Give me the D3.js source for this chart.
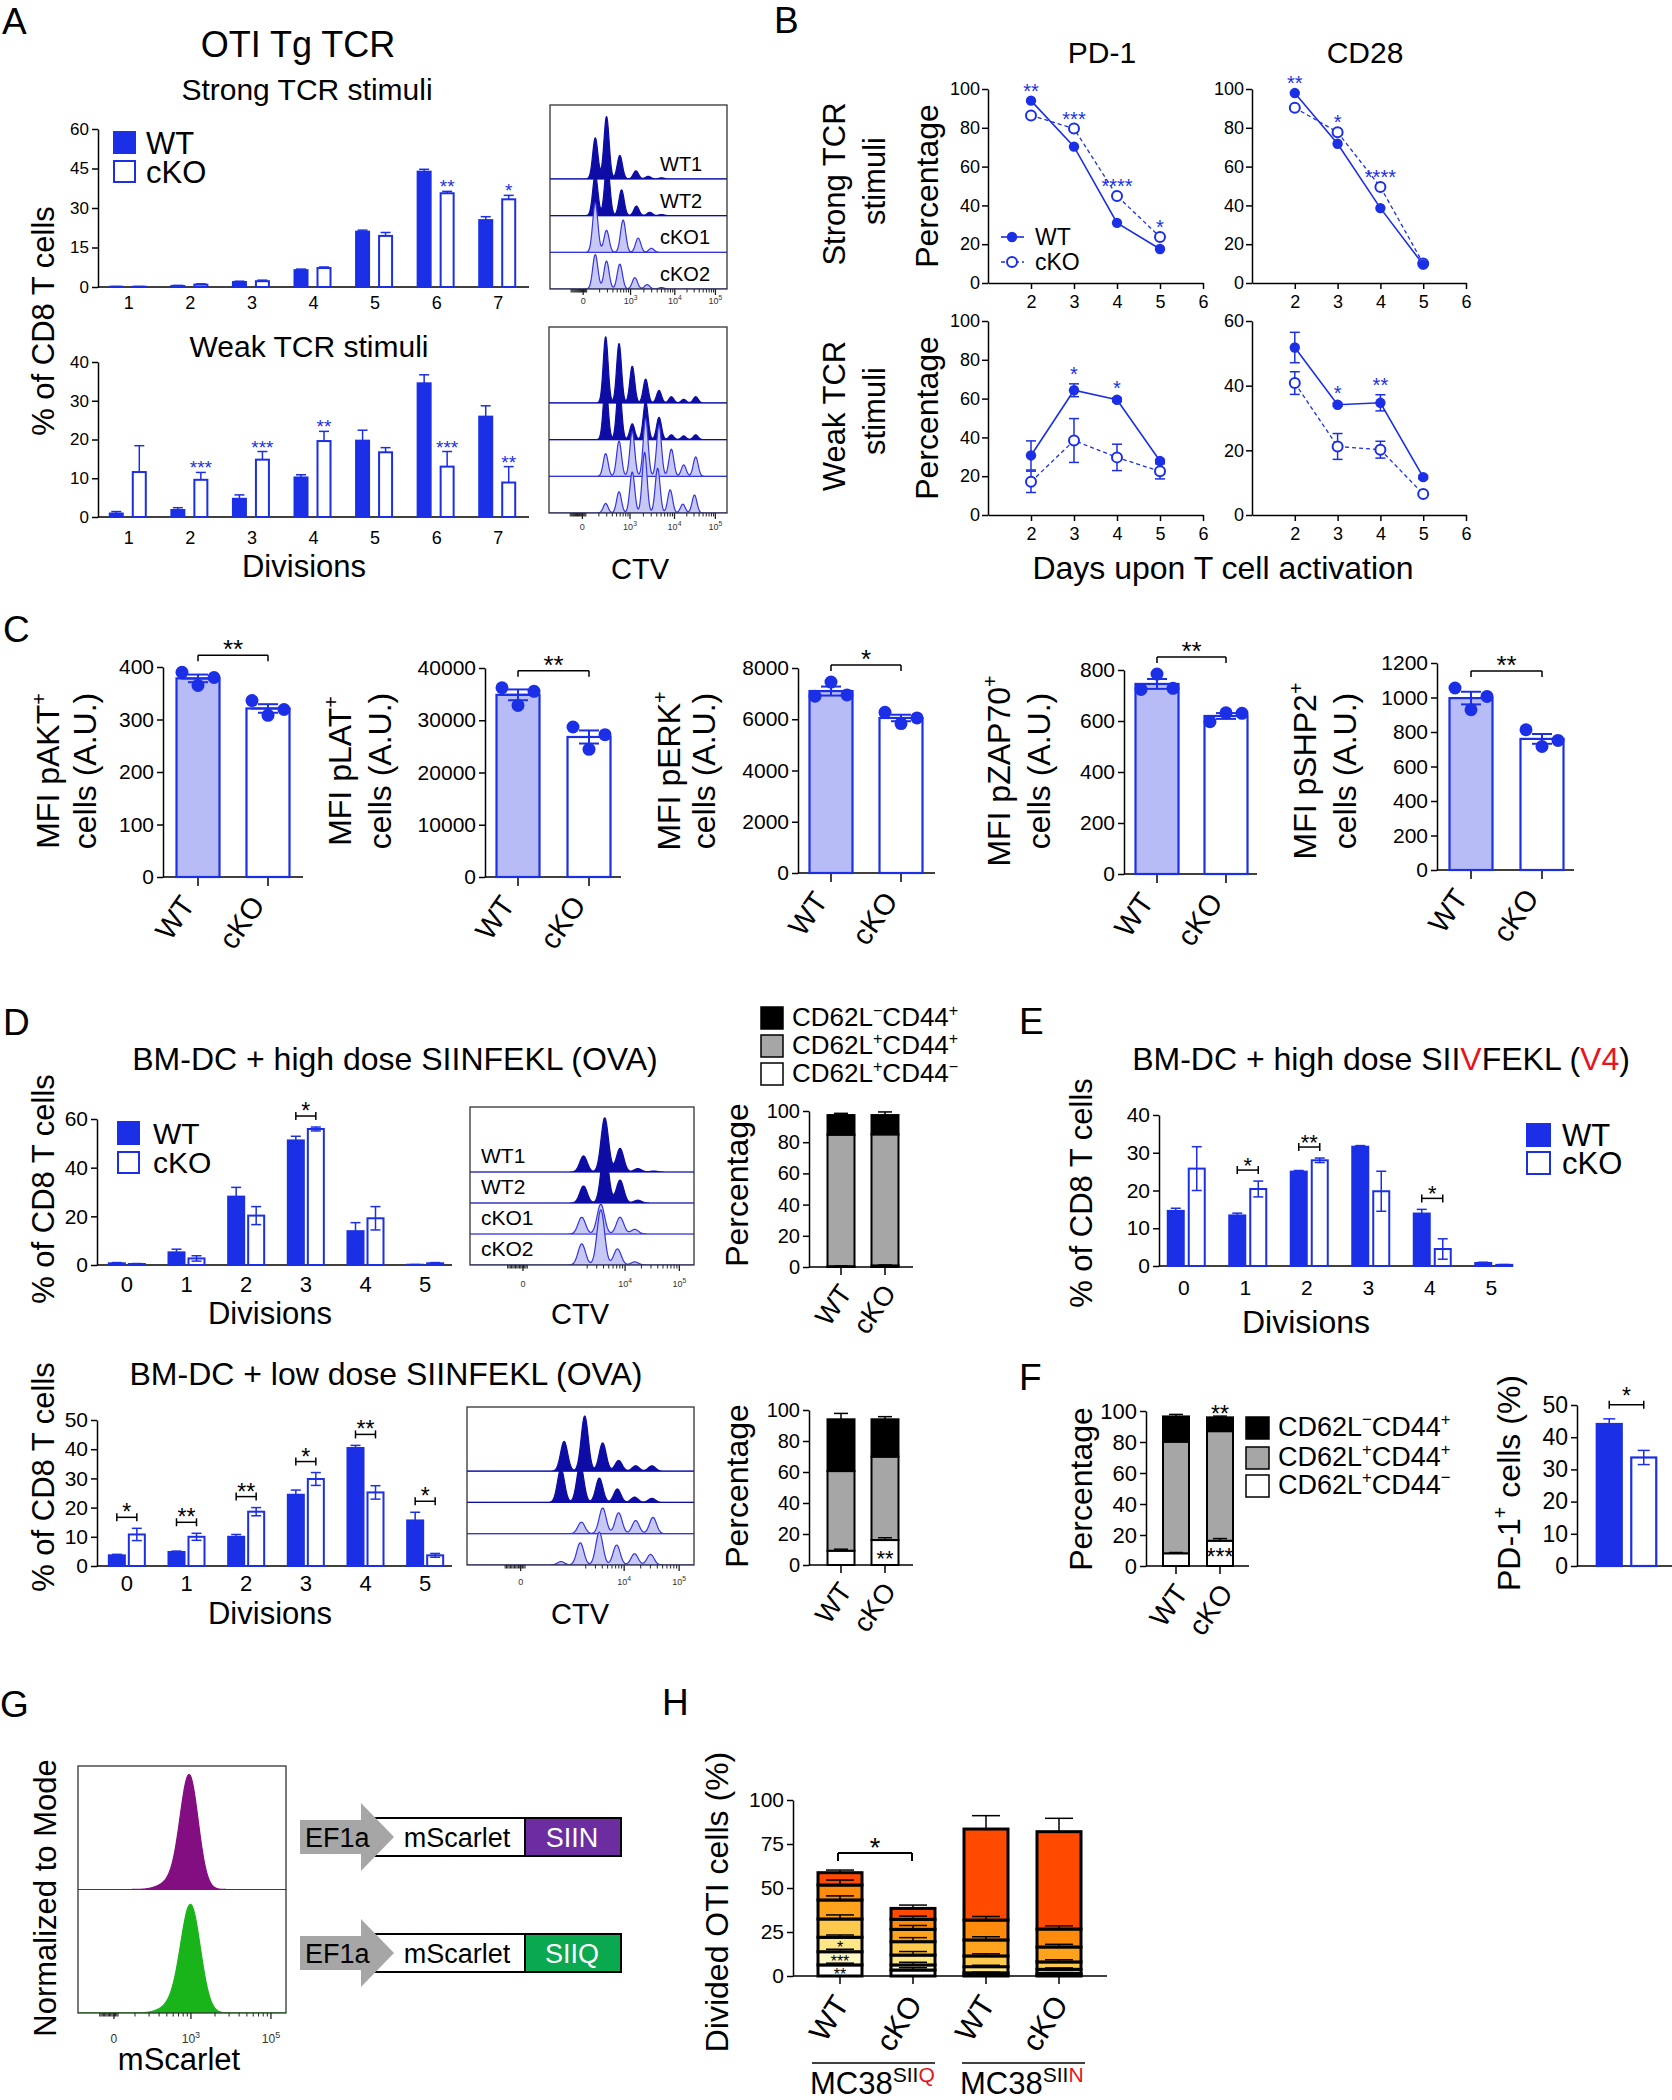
<!DOCTYPE html>
<html><head><meta charset="utf-8"><title>Figure</title>
<script src="https://cdn.jsdelivr.net/npm/d3@7/dist/d3.min.js"></script>
<style>html,body{margin:0;padding:0;background:#fff}</style>
</head><body>
<script>
// ================= DATA =================
// ---- Panel A ----
const divA=[1,2,3,4,5,6,7];
const aStrongWT=[0.1,0.4,1.9,6.4,21.0,43.8,25.4];
const aStrongWTerr=[0.1,0.2,0.3,0.4,0.6,0.9,1.3];
const aStrongKO=[0.1,0.9,2.2,7.2,19.4,35.6,33.3];
const aStrongKOerr=[0.1,0.3,0.4,0.4,1.3,0.7,1.5];
const aStrongSig=["","","","","","**","*"];
const aWeakWT=[0.9,1.8,4.7,10.2,19.7,34.5,25.9];
const aWeakWTerr=[0.5,0.6,1.0,0.7,2.7,2.2,2.8];
const aWeakKO=[11.6,9.6,14.8,19.6,16.7,13.0,8.9];
const aWeakKOerr=[6.8,1.9,2.1,2.5,1.2,3.9,4.1];
const aWeakSig=["","***","***","**","","***","**"];
const ctvRowLabels=["WT1","WT2","cKO1","cKO2"];
const ctvTickLabels=["0","10^3","10^4","10^5"];
const ctvTickChannels=[192,466,722,957];
// histogram peaks: [channel, height in % of row spacing]
const aStrongPeaks=[
  [[262,112],[327,170],[404,64],[497,22],[568,7],[645,3]],
  [[262,112],[331,145],[414,70],[500,26],[577,9],[645,3]],
  [[262,135],[327,60],[423,88],[510,39],[587,11]],
  [[262,94],[327,76],[404,68],[491,31],[562,12],[645,4]]];
const aWeakPeaks=[
  [[326,180],[403,162],[479,100],[556,65],[633,34],[704,17],[775,10],[844,17]],
  [[326,155],[403,155],[479,43],[556,104],[633,61],[704,13],[775,10],[844,13]],
  [[326,62],[403,96],[479,122],[556,158],[633,140],[704,74],[775,31],[844,53]],
  [[326,26],[403,58],[479,112],[550,165],[625,122],[697,63],[770,24],[837,49]]];
// ---- Panel B ----
const daysB=[2,3,4,5];
const dayTicks=[2,3,4,5,6];
const noErr=[0,0,0,0];
const pd1StrongWT=[94.0,70.3,31.0,17.5];
const pd1StrongKO=[86.4,79.6,44.9,23.7];
const pd1StrongSig=["**","***","****","*"];
const pd1WeakWT=[30.7,64.3,59.4,27.8];
const pd1WeakWTerr=[7.5,3.3,1.0,0.8];
const pd1WeakKO=[17.1,38.4,29.7,22.5];
const pd1WeakKOerr=[5.5,11.3,6.8,3.9];
const pd1WeakSig=["","*","*",""];
const cd28StrongWT=[97.9,71.8,38.6,9.5];
const cd28StrongKO=[90.3,77.7,49.5,10.1];
const cd28StrongSig=["**","*","****",""];
const cd28WeakWT=[51.8,34.1,34.7,11.7];
const cd28WeakWTerr=[4.7,0.5,2.5,0.5];
const cd28WeakKO=[40.8,21.2,20.2,6.5];
const cd28WeakKOerr=[3.5,4.0,2.6,0.5];
const cd28WeakSig=["","*","**",""];
// ---- Panel C (individual mice) ----
const cGroups=["WT","cKO"];
const pAKT_WT=[390,365,380], pAKT_KO=[336,308,319];
const pLAT_WT=[36220,32840,35530], pLAT_KO=[28710,24440,27240];
const pERK_WT=[6900,7450,6950], pERK_KO=[6270,5830,6050];
const pZAP70_WT=[724,784,728], pZAP70_KO=[597,632,630];
const pSHP2_WT=[1055,929,1006], pSHP2_KO=[813,716,751];
// ---- Panel D ----
const divD=[0,1,2,3,4,5];
const dHighWT=[0.7,5.2,28.1,51.2,13.9,0.1];
const dHighWTerr=[0.3,1.3,3.8,1.7,3.5,0.1];
const dHighKO=[0.4,2.7,20.3,55.9,19.2,0.7];
const dHighKOerr=[0.2,1.1,3.7,0.8,4.8,0.3];
const dHighSig=["","","","*","",""];
const dLowWT=[3.65,4.8,10.0,24.4,40.4,15.6];
const dLowWTerr=[0.35,0.3,0.8,1.6,0.9,2.8];
const dLowKO=[10.8,10.0,18.6,29.8,25.2,3.65];
const dLowKOerr=[2.1,1.2,1.4,2.2,2.3,0.65];
const dLowSig=["*","**","**","*","**","*"];
const dHighPeaks=[
  [[519,52],[616,175],[686,76],[767,11],[840,3]],
  [[519,55],[616,178],[686,74],[767,9]],
  [[511,54],[598,96],[686,54],[753,15]],
  [[511,68],[598,178],[674,52],[753,10]]];
const dLowPeaks=[
  [[438,95],[531,176],[612,90],[684,34],[761,17],[834,17]],
  [[424,108],[511,122],[597,78],[678,43],[756,17],[834,13]],
  [[516,37],[612,82],[684,67],[761,42],[839,52]],
  [[424,11],[511,71],[597,105],[675,64],[756,36],[828,34]]];
const dCtvTickLabels=["0","10^4","10^5"];
const dCtvTickChannels=[242,709,957];
const phenoLabels=[["CD62L","−","CD44","+"],["CD62L","+","CD44","+"],["CD62L","+","CD44","−"]];
const dHighWhite=[0.5,1.0], dHighGrey=[84.3,84.0], dHighBlack=[12.6,12.4];
const dHighWhiteErr=[0.2,0.3], dHighGreyErr=[0.5,0.6], dHighBlackErr=[1.1,2.0];
const dLowWhite=[9.2,16.1], dLowGrey=[51.4,53.8], dLowBlack=[33.4,24.1];
const dLowWhiteErr=[1.0,1.5], dLowGreyErr=[1.0,1.2], dLowBlackErr=[3.8,1.7];
// ---- Panel E ----
const eWT=[14.6,13.4,25.0,31.6,13.9,0.8];
const eWTerr=[0.7,0.6,0.3,0.3,1.1,0.2];
const eKO=[25.8,20.4,28.0,19.8,4.5,0.3];
const eKOerr=[5.8,2.1,0.6,5.3,2.7,0.1];
const eSig=["","*","**","","*",""];
// ---- Panel F ----
const fWhite=[8.2,16.3], fGrey=[72.0,70.7], fBlack=[16.3,8.9];
const fWhiteErr=[0.5,1.4], fGreyErr=[0.6,0.6], fBlackErr=[1.3,0.8];
const fPD1=[44.1,33.7], fPD1err=[1.6,2.2];
// ---- Panel G ---- [channel, height %, width]
const gSIIN=[[548,90,44],[470,7,60]];
const gSIIQ=[[555,85,48],[475,7,60]];
const gTickLabels=["0","10^3","10^5"];
const gTickChannels=[177,556,950];
// ---- Panel H ---- cumulative tops of division levels
const hBars=["WT","cKO","WT","cKO"];
const hTopsWTQ=[6.3,13.8,22.0,32.4,43.2,51.7,58.7];
const hTopsKOQ=[3.4,6.3,11.9,19.5,26.5,32.2,38.4];
const hTopsWTN=[0.6,1.8,5.3,11.4,20.5,31.8,83.5];
const hTopsKON=[0.5,1.5,3.8,8.0,16.5,26.7,82.0];
const hErrWTQ=[1.0,1.4,1.3,2.3,2.3,2.8,1.5];
const hErrKOQ=[1.3,1.5,2.0,2.3,2.2,1.8,1.9];
const hErrWTN=[0.3,0.4,0.8,1.2,1.8,2.0,7.6];
const hErrKON=[0.3,0.4,0.8,1.2,1.5,1.8,7.6];

// ================= DRAWING =================
const W=1672,H=2100;
const FONT="'Liberation Sans', Arial, Helvetica, sans-serif";
const BLUE="#1b2fe6", NAVY="#0d0da6", LAV="#b8bcf6", HFILL="#c7c8f3", HSTROKE="#3535e0", HBASE="#8888ee";
const RED="#e8141b";
const svg=d3.select("body").append("svg").attr("width",W).attr("height",H);
svg.append("rect").attr("width",W).attr("height",H).attr("fill","#fff");
let clipN=0;

function rich(x,y,parts,size,o={}){
  const t=svg.append("text").attr("x",x).attr("y",y).attr("font-family",FONT).attr("font-size",size)
    .attr("text-anchor",o.anchor||"middle").attr("fill",o.fill||"#000");
  if(o.rot!=null) t.attr("transform",`rotate(${o.rot},${x},${y})`);
  let off=0;
  parts.forEach(p=>{
    if(typeof p==="string") p={t:p};
    const tgt=p.sup?-size*0.4:0;
    const ts=t.append("tspan").text(p.t).attr("dy",tgt-off); off=tgt;
    if(p.sup) ts.attr("font-size",size*(p.supScale||0.62));
    if(p.fill) ts.attr("fill",p.fill);
  });
  return t;
}
function txt(s,x,y,size,o={}){return rich(x,y,[s],size,o);}
function line(x1,y1,x2,y2,stroke,w,dash){
  const l=svg.append("line").attr("x1",x1).attr("y1",y1).attr("x2",x2).attr("y2",y2)
    .attr("stroke",stroke||"#000").attr("stroke-width",w||1.5);
  if(dash) l.attr("stroke-dasharray",dash);
  return l;
}
function rect(x,y,w,h,fill,stroke,sw){
  return svg.append("rect").attr("x",x).attr("y",y).attr("width",w).attr("height",Math.max(0,h))
    .attr("fill",fill).attr("stroke",stroke||"none").attr("stroke-width",sw||0);
}
function styleAxis(g,size){
  g.selectAll("text").attr("font-family",FONT).attr("font-size",size).attr("fill","#000");
  g.selectAll(".tick line").attr("stroke","#000").attr("stroke-width",1.5);
  g.select(".domain").attr("stroke","#000").attr("stroke-width",1.5);
}
function yAxis(x,ys,ticks,size,pad){
  const g=svg.append("g").attr("transform",`translate(${x},0)`)
    .call(d3.axisLeft(ys).tickValues(ticks).tickSize(6).tickSizeOuter(0).tickPadding(pad||3).tickFormat(d3.format("d")));
  styleAxis(g,size); return g;
}
function supParts(l){const p=l.split("^");return p.length>1?[p[0],{t:p[1],sup:true,supScale:0.75}]:[p[0]];}
function pheno(x,y,lab,size){
  rich(x,y,[lab[0],{t:lab[1],sup:true},lab[2],{t:lab[3],sup:true}],size,{anchor:"start"});
}
function rotLabels(cats,xs,y0,size,dx,dy,rot){
  cats.forEach((c,i)=>txt(c,xs[i]+dx,y0+dy,size,{anchor:"end",rot:rot}));
}

// grouped bar chart (WT filled, cKO open)
function groupBars(o){
  o.cats.forEach((c,i)=>{
    const cx=o.cx(c);
    const bars=[{v:o.wt[i],e:o.wtErr[i],x:cx+o.wOff,fill:BLUE},{v:o.ko[i],e:o.koErr[i],x:cx+o.kOff,fill:"#fff"}];
    bars.forEach(b=>{
      rect(b.x,o.ys(b.v),o.bw,o.ys(0)-o.ys(b.v),b.fill,BLUE,2);
      const ex=b.x+o.bw/2, top=o.ys(b.v+b.e), lo=Math.max(0,b.v-b.e), bot=o.twoSided?o.ys(lo):o.ys(b.v);
      line(ex,bot,ex,top,BLUE,1.5);
      line(ex-o.capW/2,top,ex+o.capW/2,top,BLUE,1.5);
      if(o.twoSided&&lo>0) line(ex-o.capW/2,bot,ex+o.capW/2,bot,BLUE,1.5);
    });
    const s=o.sig[i];
    if(!s) return;
    if(o.bracket){
      const yb=o.ys(Math.max(o.wt[i]+o.wtErr[i],o.ko[i]+o.koErr[i]))-o.bracketGap;
      const x1=bars[0].x+o.bw/2, x2=bars[1].x+o.bw/2;
      line(x1,yb,x2,yb,"#000",1.5); line(x1,yb-4,x1,yb+4,"#000",1.5); line(x2,yb-4,x2,yb+4,"#000",1.5);
      txt(s,(x1+x2)/2,yb+o.sigDy,o.sigSize,{fill:"#000"});
    } else {
      txt(s,bars[1].x+o.bw/2,o.ys(o.ko[i]+o.koErr[i])+2,o.sigSize,{fill:BLUE});
    }
  });
}

// offset histogram box
function histBox(x0,y0,x1,y1,rows,spacing,sigma,styles){
  const id="clip"+(clipN++);
  svg.append("clipPath").attr("id",id).append("rect").attr("x",x0).attr("y",y0).attr("width",x1-x0).attr("height",y1-y0);
  const g=svg.append("g").attr("clip-path",`url(#${id})`);
  const xs=d3.scaleLinear().domain([0,1024]).range([x0,x1]);
  const chs=d3.range(0,1025,2);
  const n=rows.length;
  rows.forEach((peaks,i)=>{
    const st=styles[i];
    const base=y1-(n-1-i)*spacing;
    const ys=d3.scaleLinear().domain([0,100]).range([base,base-spacing]);
    g.append("line").attr("x1",x0).attr("x2",x1).attr("y1",base).attr("y2",base).attr("stroke",st.base||HBASE).attr("stroke-width",1.2);
    const f=c=>d3.sum(peaks,p=>p[1]*Math.exp(-0.5*Math.pow((c-p[0])/(p[2]||sigma),2)));
    const area=d3.area().x(c=>xs(c)).y0(base).y1(c=>ys(f(c))).curve(d3.curveMonotoneX);
    g.append("path").datum(chs).attr("d",area).attr("fill",st.fill).attr("stroke",st.stroke).attr("stroke-width",st.sw||1.2);
  });
  svg.append("rect").attr("x",x0).attr("y",y0).attr("width",x1-x0).attr("height",y1-y0).attr("fill","none").attr("stroke","#333").attr("stroke-width",1.3);
  return xs;
}
function ctvAxis(xs,yb,chs,labels,ly,size){
  chs.forEach(c=>line(xs(c),yb,xs(c),yb+6,"#222",1.3));
  const minors=[];
  for(let c=chs[0]-70;c<=chs[0]+20;c+=6) minors.push(c);
  for(let k=1;k<chs.length-1;k++){const a=chs[k],b=chs[k+1];for(let m=2;m<=9;m++) minors.push(a+(b-a)*Math.log10(m));}
  const dec=chs[2]-chs[1];
  for(let m=2;m<=9;m++){const c=chs[1]-dec+dec*Math.log10(m); if(c>chs[0]+25) minors.push(c);}
  minors.forEach(c=>{const x=xs(c); if(x>xs.range()[0]+2) line(x,yb,x,yb+3.5,"#222",1);});
  labels.forEach((l,i)=>rich(xs(chs[i]),ly,supParts(l),size,{fill:"#333"}));
}
function lineChart(o){
  const y0=o.ys.range()[0];
  const gx=svg.append("g").attr("transform",`translate(0,${y0})`)
    .call(d3.axisBottom(o.xs).tickValues(dayTicks).tickSize(6).tickSizeOuter(0).tickPadding(6).tickFormat(d3.format("d")));
  styleAxis(gx,18);
  yAxis(o.xs(1),o.ys,o.yticks,18,2);
  const ln=d3.line().x((d,i)=>o.xs(daysB[i])).y(d=>o.ys(d));
  svg.append("path").attr("d",ln(o.ko)).attr("fill","none").attr("stroke",BLUE).attr("stroke-width",1.3).attr("stroke-dasharray","4,3");
  svg.append("path").attr("d",ln(o.wt)).attr("fill","none").attr("stroke",BLUE).attr("stroke-width",1.6);
  [[o.wt,o.wtE],[o.ko,o.koE]].forEach(([v,e])=>v.forEach((d,i)=>{
    if(e[i]>0){const x=o.xs(daysB[i]);
      line(x,o.ys(d-e[i]),x,o.ys(d+e[i]),BLUE,1.5);
      line(x-5,o.ys(d-e[i]),x+5,o.ys(d-e[i]),BLUE,1.5);
      line(x-5,o.ys(d+e[i]),x+5,o.ys(d+e[i]),BLUE,1.5);}
  }));
  o.ko.forEach((d,i)=>svg.append("circle").attr("cx",o.xs(daysB[i])).attr("cy",o.ys(d)).attr("r",5).attr("fill","#fff").attr("stroke",BLUE).attr("stroke-width",2));
  o.wt.forEach((d,i)=>svg.append("circle").attr("cx",o.xs(daysB[i])).attr("cy",o.ys(d)).attr("r",5.2).attr("fill",BLUE));
  o.sig.forEach((s,i)=>{ if(!s) return;
    const m=Math.max(o.wt[i]+o.wtE[i],o.ko[i]+o.koE[i]);
    txt(s,o.xs(daysB[i]),o.ys(m)-3,20,{fill:BLUE});});
}
function dotBar(o){
  const y0=o.ys(0);
  yAxis(o.axisX,o.ys,o.ticks,21,3);
  line(o.axisX,y0,o.end,y0,"#000",1.5);
  const xs=[o.xW,o.xK];
  xs.forEach(x=>line(x,y0,x,y0+9,"#000",1.5));
  const groups=[o.wt,o.ko];
  const maxPt=d3.max([...o.wt,...o.ko]);
  groups.forEach((pts,gi)=>{
    const x=xs[gi], m=d3.mean(pts), sem=d3.deviation(pts)/Math.sqrt(pts.length);
    rect(x-21.5,o.ys(m),43,y0-o.ys(m),gi===0?LAV:"#fff",BLUE,2.2);
    line(x,o.ys(m-sem),x,o.ys(m+sem),BLUE,2);
    line(x-10,o.ys(m+sem),x+10,o.ys(m+sem),BLUE,2);
    line(x-10,o.ys(m-sem),x+10,o.ys(m-sem),BLUE,2);
    line(x-17,o.ys(m),x+17,o.ys(m),BLUE,2);
    const jit=d3.scalePoint().domain(d3.range(pts.length)).range([-16,16]);
    pts.forEach((p,k)=>svg.append("circle").attr("cx",x+jit(k)).attr("cy",o.ys(p)).attr("r",6.5).attr("fill",BLUE));
  });
  const yb=o.ys(maxPt)-17;
  line(o.xW,yb,o.xK,yb,"#000",1.5); line(o.xW,yb,o.xW,yb+6,"#000",1.5); line(o.xK,yb,o.xK,yb+6,"#000",1.5);
  txt(o.sig,(o.xW+o.xK)/2,yb+3,26);
  rich(o.labX[0],771,o.lab1,32,{rot:-90});
  txt("cells (A.U.)",o.labX[1],771,32,{rot:-90});
  rotLabels(cGroups,[o.xW-2,o.xK-2],y0,29,0,28,-55);
}
function stacked(o){
  const y0=o.ys(0);
  yAxis(o.axisX,o.ys,o.ticks,o.fontSize,3);
  line(o.axisX,y0,o.end,y0,"#000",1.5);
  o.xs.forEach(x=>line(x,y0,x,y0+8,"#000",1.5));
  const errs=[];
  o.xs.forEach((x,i)=>{
    let cum=0;
    o.levels.forEach((lv,L)=>{
      const v=lv[i];
      rect(x-o.bw/2,o.ys(cum+v),o.bw,o.ys(cum)-o.ys(cum+v),o.colors[L],"#000",o.sw);
      cum+=v;
      if(o.errs[L][i]>0) errs.push([x,cum,o.errs[L][i]]);
    });
  });
  errs.forEach(([x,c,e])=>{line(x,o.ys(c),x,o.ys(c+e),"#000",1.5);line(x-o.capW/2,o.ys(c+e),x+o.capW/2,o.ys(c+e),"#000",1.5);});
}

// ---------------- Panel A ----------------
txt("A",2,34,37,{anchor:"start"});
txt("OTI Tg TCR",298,57,36);
txt("Strong TCR stimuli",307,100,30);
txt("Weak TCR stimuli",309,357,30);
txt("Divisions",304,577,31);
txt("% of CD8 T cells",54,321,31,{rot:-90});
const xA=d3.scaleBand().domain(divA).range([98,529]);
const cA=d=>xA(d)+xA.bandwidth()/2;
const yA1=d3.scaleLinear().domain([0,60]).range([287,129]);
const yA2=d3.scaleLinear().domain([0,40]).range([517,362]);
[[yA1,[0,15,30,45,60],aStrongWT,aStrongWTerr,aStrongKO,aStrongKOerr,aStrongSig,309],
 [yA2,[0,10,20,30,40],aWeakWT,aWeakWTerr,aWeakKO,aWeakKOerr,aWeakSig,544]].forEach(([ys,tk,wt,we,ko,ke,sig,ly])=>{
  yAxis(98,ys,tk,17,3);
  line(98,ys(0),529,ys(0),"#000",1.5);
  groupBars({cats:divA,cx:cA,ys,wt,wtErr:we,ko,koErr:ke,wOff:-19,kOff:4,bw:13,twoSided:false,capW:10,sig,sigSize:19});
  divA.forEach(d=>txt(String(d),cA(d),ly,18));
});
rect(114,132,21,21,BLUE,BLUE,2); rect(114,161,21,21,"#fff",BLUE,2);
txt("WT",146,154,31,{anchor:"start"}); txt("cKO",146,183,31,{anchor:"start"});
const histStyles=[{fill:NAVY,stroke:NAVY},{fill:NAVY,stroke:NAVY},{fill:HFILL,stroke:HSTROKE},{fill:HFILL,stroke:HSTROKE}];
const xsA1=histBox(550,105,727,289,aStrongPeaks,36.7,15,histStyles);
ctvAxis(xsA1,289,ctvTickChannels,ctvTickLabels,304,9);
ctvRowLabels.forEach((l,i)=>txt(l,660,289-(3-i)*36.7-8,20,{anchor:"start"}));
const xsA2=histBox(549,327,727,513,aWeakPeaks,36.7,14,histStyles);
ctvAxis(xsA2,513,ctvTickChannels,ctvTickLabels,530,9);
txt("CTV",640,579,29);

// ---------------- Panel B ----------------
txt("B",774,33,37,{anchor:"start"});
txt("PD-1",1102,63,30); txt("CD28",1365,63,30);
const xPD=d3.scaleLinear().domain([1,6]).range([988,1203]);
const xCD=d3.scaleLinear().domain([1,6]).range([1252,1466]);
const yBs=d3.scaleLinear().domain([0,100]).range([283,89]);
const yBw=d3.scaleLinear().domain([0,100]).range([515,321]);
const yBw2=d3.scaleLinear().domain([0,60]).range([515,321]);
lineChart({xs:xPD,ys:yBs,yticks:[0,20,40,60,80,100],wt:pd1StrongWT,wtE:noErr,ko:pd1StrongKO,koE:noErr,sig:pd1StrongSig});
lineChart({xs:xCD,ys:yBs,yticks:[0,20,40,60,80,100],wt:cd28StrongWT,wtE:noErr,ko:cd28StrongKO,koE:noErr,sig:cd28StrongSig});
lineChart({xs:xPD,ys:yBw,yticks:[0,20,40,60,80,100],wt:pd1WeakWT,wtE:pd1WeakWTerr,ko:pd1WeakKO,koE:pd1WeakKOerr,sig:pd1WeakSig});
lineChart({xs:xCD,ys:yBw2,yticks:[0,20,40,60],wt:cd28WeakWT,wtE:cd28WeakWTerr,ko:cd28WeakKO,koE:cd28WeakKOerr,sig:cd28WeakSig});
txt("Percentage",938,186,32,{rot:-90}); txt("Percentage",938,418,32,{rot:-90});
txt("Strong TCR",845,184,31,{rot:-90}); txt("stimuli",885,181,31,{rot:-90});
txt("Weak TCR",845,416,31,{rot:-90}); txt("stimuli",885,411,31,{rot:-90});
txt("Days upon T cell activation",1223,579,32);
line(1001,237,1024,237,BLUE,1.6); svg.append("circle").attr("cx",1012).attr("cy",237).attr("r",5.2).attr("fill",BLUE);
line(1001,262,1024,262,BLUE,1.3,"4,3"); svg.append("circle").attr("cx",1012).attr("cy",262).attr("r",5).attr("fill","#fff").attr("stroke",BLUE).attr("stroke-width",2);
txt("WT",1035,245,23,{anchor:"start"}); txt("cKO",1035,270,23,{anchor:"start"});

// ---------------- Panel C ----------------
txt("C",3,642,37,{anchor:"start"});
dotBar({axisX:163,ys:d3.scaleLinear().domain([0,400]).range([877,667]),ticks:[0,100,200,300,400],xW:198,xK:268,end:303,
  wt:pAKT_WT,ko:pAKT_KO,sig:"**",lab1:["MFI pAKT",{t:"+",sup:true}],labX:[59,96]});
dotBar({axisX:485,ys:d3.scaleLinear().domain([0,40000]).range([877,668]),ticks:[0,10000,20000,30000,40000],xW:518,xK:589,end:621,
  wt:pLAT_WT,ko:pLAT_KO,sig:"**",lab1:["MFI pLAT",{t:"+",sup:true}],labX:[351,391]});
dotBar({axisX:798,ys:d3.scaleLinear().domain([0,8000]).range([873,668]),ticks:[0,2000,4000,6000,8000],xW:831,xK:901,end:935,
  wt:pERK_WT,ko:pERK_KO,sig:"*",lab1:["MFI pERK",{t:"+",sup:true}],labX:[680,715]});
dotBar({axisX:1124,ys:d3.scaleLinear().domain([0,800]).range([874,670]),ticks:[0,200,400,600,800],xW:1157,xK:1226,end:1257,
  wt:pZAP70_WT,ko:pZAP70_KO,sig:"**",lab1:["MFI pZAP70",{t:"+",sup:true}],labX:[1010,1050]});
dotBar({axisX:1437,ys:d3.scaleLinear().domain([0,1200]).range([870,663]),ticks:[0,200,400,600,800,1000,1200],xW:1471,xK:1542,end:1574,
  wt:pSHP2_WT,ko:pSHP2_KO,sig:"**",lab1:["MFI pSHP2",{t:"+",sup:true}],labX:[1316,1356]});

// ---------------- Panel D ----------------
txt("D",3,1035,37,{anchor:"start"});
txt("BM-DC + high dose SIINFEKL (OVA)",395,1070,32);
txt("BM-DC + low dose SIINFEKL (OVA)",386,1385,32);
const xD=d3.scaleBand().domain(divD).range([97,455]);
const cD=d=>xD(d)+xD.bandwidth()/2;
const yDh=d3.scaleLinear().domain([0,60]).range([1265,1119]);
const yDl=d3.scaleLinear().domain([0,50]).range([1566,1420]);
[[yDh,[0,20,40,60],dHighWT,dHighWTerr,dHighKO,dHighKOerr,dHighSig,1292,1189,1324],
 [yDl,[0,10,20,30,40,50],dLowWT,dLowWTerr,dLowKO,dLowKOerr,dLowSig,1591,1477,1624]].forEach(([ys,tk,wt,we,ko,ke,sig,ly,yl,dl])=>{
  yAxis(97,ys,tk,21,3);
  line(97,ys(0),452,ys(0),"#000",1.5);
  groupBars({cats:divD,cx:cD,ys,wt,wtErr:we,ko,koErr:ke,wOff:-18,kOff:2,bw:16,twoSided:true,capW:10,sig,sigSize:23,bracket:true,bracketGap:11,sigDy:3});
  divD.forEach(d=>txt(String(d),cD(d),ly,22));
  txt("% of CD8 T cells",54,yl,31,{rot:-90});
  txt("Divisions",270,dl,31);
});
rect(118,1122,21,22,BLUE,BLUE,2); rect(118,1152,21,21,"#fff",BLUE,2);
txt("WT",153,1144,30,{anchor:"start"}); txt("cKO",153,1173,30,{anchor:"start"});
const xsD1=histBox(470,1107,694,1265,dHighPeaks,31,17,histStyles);
ctvAxis(xsD1,1265,dCtvTickChannels,dCtvTickLabels,1287,9);
ctvRowLabels.forEach((l,i)=>txt(l,481,1265-(3-i)*31-9,21,{anchor:"start"}));
const xsD2=histBox(467,1407,694,1565,dLowPeaks,31.3,16,histStyles);
ctvAxis(xsD2,1565,dCtvTickChannels,dCtvTickLabels,1585,9);
txt("CTV",580,1324,29); txt("CTV",580,1624,29);
const stackColors=["#ffffff","#a6a6a6","#000000"];
const yDsh=d3.scaleLinear().domain([0,100]).range([1267,1111]);
const yDsl=d3.scaleLinear().domain([0,100]).range([1565,1410]);
stacked({axisX:809,ys:yDsh,ticks:[0,20,40,60,80,100],fontSize:20,end:913,xs:[841,885],bw:27,sw:2,capW:14,colors:stackColors,
  levels:[dHighWhite,dHighGrey,dHighBlack],errs:[dHighWhiteErr,dHighGreyErr,dHighBlackErr]});
stacked({axisX:809,ys:yDsl,ticks:[0,20,40,60,80,100],fontSize:20,end:913,xs:[841,885],bw:27,sw:2,capW:14,colors:stackColors,
  levels:[dLowWhite,dLowGrey,dLowBlack],errs:[dLowWhiteErr,dLowGreyErr,dLowBlackErr]});
txt("**",885,yDsl(dLowWhite[1]/2)+13,22);
txt("Percentage",748,1185,32,{rot:-90}); txt("Percentage",748,1486,32,{rot:-90});
rotLabels(cGroups,[853,897],1267,27,0,26,-55);
rotLabels(cGroups,[853,897],1565,27,0,26,-55);
[[0,1007],[1,1035],[2,1063]].forEach(([k,y])=>{
  rect(761,y,22,22,stackColors[2-k],"#000",1.5);
  pheno(792,y+19,phenoLabels[k],26);
});

// ---------------- Panel E ----------------
txt("E",1019,1034,37,{anchor:"start"});
rich(1381,1070,["BM-DC + high dose SII",{t:"V",fill:RED},"FEKL (",{t:"V4",fill:RED},")"],32);
const xE=d3.scaleBand().domain(divD).range([1153,1522]);
const cE=d=>xE(d)+xE.bandwidth()/2;
const yE=d3.scaleLinear().domain([0,40]).range([1266,1115]);
yAxis(1159,yE,[0,10,20,30,40],21,3);
line(1159,yE(0),1512,yE(0),"#000",1.5);
groupBars({cats:divD,cx:cE,ys:yE,wt:eWT,wtErr:eWTerr,ko:eKO,koErr:eKOerr,wOff:-16,kOff:5,bw:16,twoSided:true,capW:10,sig:eSig,sigSize:22,bracket:true,bracketGap:11,sigDy:3});
divD.forEach(d=>txt(String(d),cE(d),1295,21));
txt("Divisions",1306,1333,32);
txt("% of CD8 T cells",1092,1193,31,{rot:-90});
rect(1527,1124,23,22,BLUE,BLUE,2); rect(1527,1152,23,22,"#fff",BLUE,2);
txt("WT",1562,1146,31,{anchor:"start"}); txt("cKO",1562,1174,31,{anchor:"start"});

// ---------------- Panel F ----------------
txt("F",1019,1390,37,{anchor:"start"});
const yF=d3.scaleLinear().domain([0,100]).range([1566,1411]);
stacked({axisX:1146,ys:yF,ticks:[0,20,40,60,80,100],fontSize:22,end:1249,xs:[1176,1220],bw:26,sw:2,capW:14,colors:stackColors,
  levels:[fWhite,fGrey,fBlack],errs:[fWhiteErr,fGreyErr,fBlackErr]});
txt("**",1220,yF(fWhite[1]+fGrey[1]+fBlack[1]+fBlackErr[1])+6,23);
txt("***",1220,yF(fWhite[1]/2)+12,23);
txt("Percentage",1092,1489,32,{rot:-90});
rotLabels(cGroups,[1189,1234],1566,28,0,27,-55);
[[0,1417],[1,1447],[2,1475]].forEach(([k,y])=>{
  rect(1246,y,23,22,stackColors[2-k],"#000",1.5);
  pheno(1278,y+19,phenoLabels[k],27);
});
const yFp=d3.scaleLinear().domain([0,50]).range([1566,1405]);
const xFp=d3.scaleBand().domain(cGroups).range([1592,1661]);
const cFp=d=>xFp(d)+xFp.bandwidth()/2;
yAxis(1577,yFp,[0,10,20,30,40,50],23,3);
line(1577,1566,1672,1566,"#000",1.5);
fPD1.forEach((v,i)=>{
  const x=cFp(cGroups[i]);
  rect(x-12.5,yFp(v),25,1566-yFp(v),i===0?BLUE:"#fff",BLUE,2.2);
  line(x,yFp(v-fPD1err[i]),x,yFp(v+fPD1err[i]),BLUE,1.5);
  line(x-6,yFp(v+fPD1err[i]),x+6,yFp(v+fPD1err[i]),BLUE,1.5);
  line(x-6,yFp(v-fPD1err[i]),x+6,yFp(v-fPD1err[i]),BLUE,1.5);
});
{
  const yb=yFp(d3.max(fPD1.map((v,i)=>v+fPD1err[i])))-14, x1=cFp("WT"), x2=cFp("cKO");
  line(x1,yb,x2,yb,"#000",1.5); line(x1,yb-4,x1,yb+4,"#000",1.5); line(x2,yb-4,x2,yb+4,"#000",1.5);
  txt("*",(x1+x2)/2,yb-1,23);
}
rich(1520,1483,["PD-1",{t:"+",sup:true}," cells (%)"],32,{rot:-90});

// ---------------- Panel G ----------------
txt("G",0,1717,37,{anchor:"start"});
const xsG=histBox(78,1766,286,2013,[gSIIN,gSIIQ],123.5,40,[{fill:"#820e82",stroke:"#820e82",base:"#dca6dc"},{fill:"#19b419",stroke:"#19b419",base:"#19b419"}]);
ctvAxis(xsG,2013,gTickChannels,gTickLabels,2043,12);
txt("Normalized to Mode",56,1898,31,{rot:-90});
txt("mScarlet",179,2070,31);
[[1837,"SIIN","#6b2d9f"],[1953,"SIIQ","#0aa84f"]].forEach(([cy,lab,col])=>{
  rect(375,cy-19,150,38,"#fff","#000",2);
  rect(525,cy-19,96,38,col,"#000",2);
  svg.append("polygon").attr("points",[[300,cy-17],[361,cy-17],[361,cy-34],[394,cy],[361,cy+34],[361,cy+17],[300,cy+17]].map(p=>p.join(",")).join(" ")).attr("fill","#a6a6a6");
  txt("EF1a",305,cy+10,27,{anchor:"start"});
  txt("mScarlet",457,cy+10,27);
  txt(lab,572,cy+10,27,{fill:"#fff"});
});

// ---------------- Panel H ----------------
txt("H",662,1715,37,{anchor:"start"});
const yH=d3.scaleLinear().domain([0,100]).range([1976,1800]);
const xH=d3.scaleBand().domain(d3.range(hBars.length)).range([803.5,1095.5]);
const hCenters=d3.range(hBars.length).map(i=>xH(i)+xH.bandwidth()/2);
const toLevels=tops=>tops.map((t,k)=>k===0?t:t-tops[k-1]);
const hLevelsPerBar=[toLevels(hTopsWTQ),toLevels(hTopsKOQ),toLevels(hTopsWTN),toLevels(hTopsKON)];
const hErrPerBar=[hErrWTQ,hErrKOQ,hErrWTN,hErrKON];
const hColors=["#ffffff","#fff8c4","#ffe686","#ffc94e","#ffa31d","#ff8a0c","#ff4a00"];
stacked({axisX:793,ys:yH,ticks:[0,25,50,75,100],fontSize:21,end:1107,xs:hCenters,bw:44,sw:3,capW:28,colors:hColors,
  levels:hColors.map((c,L)=>hLevelsPerBar.map(b=>b[L])),errs:hColors.map((c,L)=>hErrPerBar.map(b=>b[L]))});
{
  const yb=yH(hTopsWTQ[6]+hErrWTQ[6])-17, x1=hCenters[0]-2, x2=hCenters[1]-1;
  line(x1,yb,x2,yb,"#000",2); line(x1,yb,x1,yb+8,"#000",2); line(x2,yb,x2,yb+8,"#000",2);
  txt("*",(x1+x2)/2,yb+4,27);
  txt("**",hCenters[0],yH(hTopsWTQ[0]/2)+10,16);
  txt("***",hCenters[0],yH((hTopsWTQ[0]+hTopsWTQ[1])/2)+9,16);
  txt("*",hCenters[0],yH((hTopsWTQ[1]+hTopsWTQ[2])/2)+9,16);
}
rotLabels(hBars,hCenters.map(x=>x+10),1976,30,0,28,-58);
line(812,2063,935,2063,"#000",1.5); line(962,2063,1085,2063,"#000",1.5);
rich(810,2094,["MC38",{t:"SII",sup:true,supScale:0.68},{t:"Q",sup:true,supScale:0.68,fill:RED}],31,{anchor:"start"});
rich(960,2094,["MC38",{t:"SII",sup:true,supScale:0.68},{t:"N",sup:true,supScale:0.68,fill:RED}],31,{anchor:"start"});
txt("Divided OTI cells (%)",728,1902,32,{rot:-90});
</script>
</body></html>
